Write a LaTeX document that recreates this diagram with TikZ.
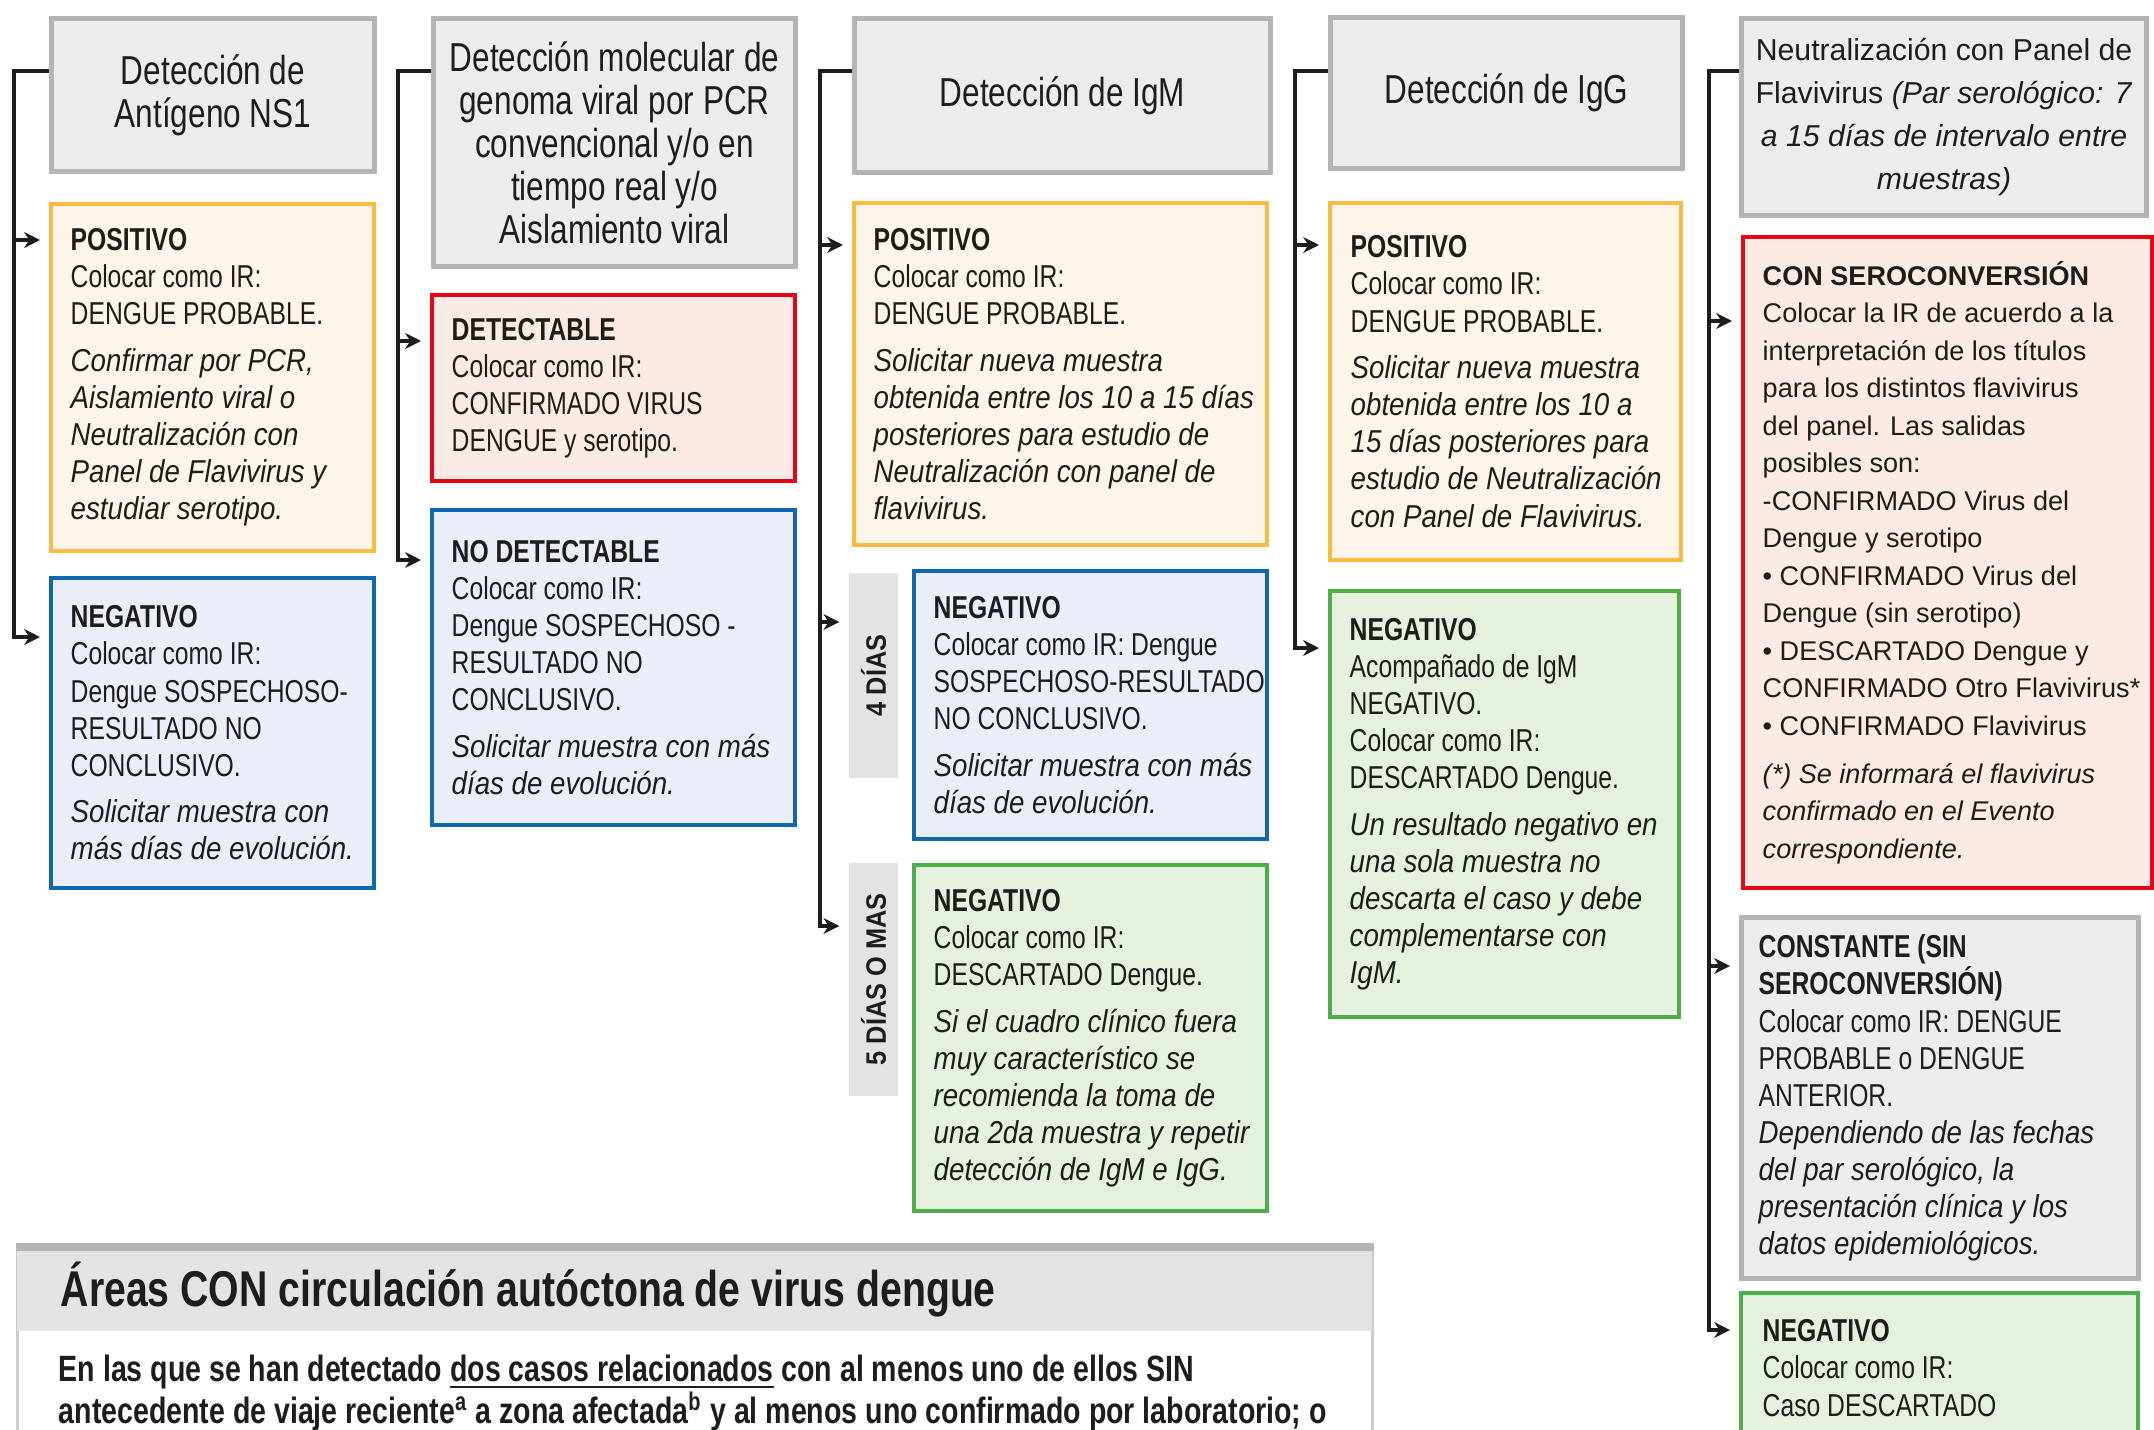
\documentclass[tikz,border=0pt]{standalone}
\usepackage{fontspec}
\setmainfont{Liberation Sans}[
  UprightFeatures={FakeStretch=0.78}, BoldFeatures={FakeStretch=0.78},
  ItalicFeatures={FakeStretch=0.875}, BoldItalicFeatures={FakeStretch=0.875}]
\newfontfamily\widefont{Liberation Sans}
\newfontfamily\tabfont{Liberation Sans}[FakeStretch=0.9]
\usetikzlibrary{arrows.meta,positioning}

\definecolor{ink}{HTML}{1D1D1B}
\definecolor{hdrfill}{HTML}{ECECEC}
\definecolor{hdrline}{HTML}{B4B4B4}
\definecolor{posline}{HTML}{FBBA40}
\definecolor{posfill}{HTML}{FEF5EA}
\definecolor{redline}{HTML}{E30613}
\definecolor{redfill}{HTML}{FCEAE4}
\definecolor{blueline}{HTML}{0F67B1}
\definecolor{bluefill}{HTML}{EAEEF8}
\definecolor{greenline}{HTML}{4DAF47}
\definecolor{greenfill}{HTML}{E5F0DF}
\definecolor{tabgray}{HTML}{E3E3E3}
\definecolor{arealine}{HTML}{CBCBCB}

\newcommand{\bodyfont}{\fontsize{9}{10.55}\selectfont}
\newcommand{\hdrfont}{\fontsize{11.5}{12.2}\selectfont}

\tikzset{
  hdr/.style={draw=hdrline, fill=hdrfill, line width=1.4pt, anchor=north west,
    align=center, inner sep=0pt, font=\hdrfont, text=ink},
  resbox/.style={line width=1.1pt, anchor=north west, inner sep=0pt},
  posbox/.style={resbox, draw=posline, fill=posfill},
  redbox/.style={resbox, draw=redline, fill=redfill},
  bluebox/.style={resbox, draw=blueline, fill=bluefill},
  greenbox/.style={resbox, draw=greenline, fill=greenfill},
  graybox/.style={resbox, draw=hdrline, fill=hdrfill, line width=1.4pt},
  tab/.style={fill=tabgray, inner sep=0pt, text=ink, font=\tabfont\fontsize{8}{9}\selectfont\bfseries},
  txt/.style={align=left, inner sep=0pt, font=\bodyfont, text=ink},
  widetxt/.style={txt, font=\widefont\fontsize{7.7}{10.66}\selectfont},
  bus/.style={draw=ink, line width=1.1pt},
  arr/.style={bus, -{Stealth[length=4.5pt,width=4.5pt]}, shorten >=0.9mm},
}

\begin{document}
\begin{tikzpicture}[x=0.01cm, y=0.01cm]
  \useasboundingbox (0,0) rectangle (2154,-1430);
  \clip (0,0) rectangle (2154,-1430);
  \fill[white] (0,0) rectangle (2154,-1430);

  % --- Antigeno NS1 ---
  \node[hdr, minimum width=3.23cm, minimum height=1.53cm] (hdr1) at (49,-16)
    {Detección de\\Antígeno NS1};
  \node[posbox, minimum width=3.23cm, minimum height=3.47cm] (pos1) at (49,-202) {};
  \node[txt, right=0.21cm of pos1.west] (pos1t)
    {\textbf{POSITIVO}\\Colocar como IR:\\DENGUE PROBABLE.\\[2.7pt]
     \textit{Confirmar por PCR,}\\\textit{Aislamiento viral o}\\
     \textit{Neutralización con}\\\textit{Panel de Flavivirus y}\\
     \textit{estudiar serotipo.}};
  \node[bluebox, minimum width=3.23cm, minimum height=3.10cm] (neg1) at (49,-576) {};
  \node[txt, right=0.21cm of neg1.west] (neg1t)
    {\textbf{NEGATIVO}\\Colocar como IR:\\Dengue SOSPECHOSO-\\RESULTADO NO\\
     CONCLUSIVO.\\[2.7pt]\textit{Solicitar muestra con}\\\textit{más días de evolución.}};

  % --- PCR / aislamiento ---
  \node[hdr, minimum width=3.62cm, minimum height=2.48cm] (hdr2) at (431,-16)
    {Detección molecular de\\genoma viral por PCR\\convencional y/o en\\
     tiempo real y/o\\Aislamiento viral};
  \node[redbox, minimum width=3.63cm, minimum height=1.86cm] (det2) at (430,-293) {};
  \node[txt, right=0.21cm of det2.west] (det2t)
    {\textbf{DETECTABLE}\\Colocar como IR:\\CONFIRMADO VIRUS\\DENGUE y serotipo.};
  \node[bluebox, minimum width=3.63cm, minimum height=3.15cm] (nodet2) at (430,-508) {};
  \node[txt, right=0.21cm of nodet2.west] (nodet2t)
    {\textbf{NO DETECTABLE}\\Colocar como IR:\\Dengue SOSPECHOSO -\\RESULTADO NO\\
     CONCLUSIVO.\\[2.7pt]\textit{Solicitar muestra con más}\\\textit{días de evolución.}};

  % --- IgM ---
  \node[hdr, minimum width=4.16cm, minimum height=1.54cm] (hdr3) at (852,-16)
    {Detección de IgM};
  \node[posbox, minimum width=4.13cm, minimum height=3.42cm] (pos3) at (852,-201) {};
  \node[txt, right=0.21cm of pos3.west] (pos3t)
    {\textbf{POSITIVO}\\Colocar como IR:\\DENGUE PROBABLE.\\[2.7pt]
     \textit{Solicitar nueva muestra}\\\textit{obtenida entre los 10 a 15 días}\\
     \textit{posteriores para estudio de}\\\textit{Neutralización con panel de}\\
     \textit{flavivirus.}};
  \node[tab, minimum width=0.49cm, minimum height=2.05cm] (tab4) at (873.5,-675.5)
    {\rotatebox{90}{4 DÍAS}};
  \node[bluebox, minimum width=3.53cm, minimum height=2.68cm] (neg3a) at (912,-569) {};
  \node[txt, right=0.21cm of neg3a.west] (neg3at)
    {\textbf{NEGATIVO}\\Colocar como IR: Dengue\\SOSPECHOSO-RESULTADO\\
     NO CONCLUSIVO.\\[2.7pt]\textit{Solicitar muestra con más}\\\textit{días de evolución.}};
  \node[tab, minimum width=0.49cm, minimum height=2.33cm] (tab5) at (873.5,-979.5)
    {\rotatebox{90}{5 DÍAS O MAS}};
  \node[greenbox, minimum width=3.53cm, minimum height=3.46cm] (neg3b) at (912,-863) {};
  \node[txt, right=0.21cm of neg3b.west] (neg3bt)
    {\textbf{NEGATIVO}\\Colocar como IR:\\DESCARTADO Dengue.\\[2.7pt]
     \textit{Si el cuadro clínico fuera}\\\textit{muy característico se}\\
     \textit{recomienda la toma de}\\\textit{una 2da muestra y repetir}\\
     \textit{detección de IgM e IgG.}};

  % --- IgG ---
  \node[hdr, minimum width=3.52cm, minimum height=1.51cm] (hdr4) at (1328,-15)
    {Detección de IgG};
  \node[posbox, minimum width=3.51cm, minimum height=3.57cm] (pos4) at (1328,-201) {};
  \node[txt, right=0.22cm of pos4.west] (pos4t)
    {\textbf{POSITIVO}\\Colocar como IR:\\DENGUE PROBABLE.\\[2.7pt]
     \textit{Solicitar nueva muestra}\\\textit{obtenida entre los 10 a}\\
     \textit{15 días posteriores para}\\\textit{estudio de Neutralización}\\
     \textit{con Panel de Flavivirus.}};
  \node[greenbox, minimum width=3.49cm, minimum height=4.26cm] (neg4) at (1328,-589) {};
  \node[txt, right=0.21cm of neg4.west] (neg4t)
    {\textbf{NEGATIVO}\\Acompañado de IgM\\NEGATIVO.\\Colocar como IR:\\
     DESCARTADO Dengue.\\[2.7pt]\textit{Un resultado negativo en}\\
     \textit{una sola muestra no}\\\textit{descarta el caso y debe}\\
     \textit{complementarse con}\\\textit{IgM.}};

  % --- Neutralizacion ---
  \node[hdr, minimum width=4.05cm, minimum height=1.97cm,
        font=\widefont\fontsize{8.6}{12.2}\selectfont] (hdr5) at (1739,-16)
    {Neutralización con Panel de\\Flavivirus \textit{(Par serológico: 7}\\
     \textit{a 15 días de intervalo entre}\\\textit{muestras)}};
  \node[redbox, minimum width=4.09cm, minimum height=6.51cm] (conser) at (1741,-235) {};
  \node[widetxt, right=0.21cm of conser.west] (consert)
    {\textbf{CON SEROCONVERSIÓN}\\Colocar la IR de acuerdo a la\\
     interpretación de los títulos\\para los distintos flavivirus\\
     del panel. Las salidas\\posibles son:\\-CONFIRMADO Virus del\\
     Dengue y serotipo\\• CONFIRMADO Virus del\\Dengue (sin serotipo)\\
     • DESCARTADO Dengue y\\CONFIRMADO Otro Flavivirus*\\
     • CONFIRMADO Flavivirus\\[3pt]\textit{(*) Se informará el flavivirus}\\
     \textit{confirmado en el Evento}\\\textit{correspondiente.}};
  \node[graybox, minimum width=3.97cm, minimum height=3.61cm] (const) at (1739,-915) {};
  \node[txt, right=0.19cm of const.west] (constt)
    {\textbf{CONSTANTE (SIN}\\\textbf{SEROCONVERSIÓN)}\\Colocar como IR: DENGUE\\
     PROBABLE o DENGUE\\ANTERIOR.\\\textit{Dependiendo de las fechas}\\
     \textit{del par serológico, la}\\\textit{presentación clínica y los}\\
     \textit{datos epidemiológicos.}};
  \node[greenbox, minimum width=3.97cm, minimum height=1.80cm] (neg5) at (1739,-1291) {};
  \node[txt, anchor=north west, below right=0.28cm and 0.23cm of neg5.north west] (neg5t)
    {\textbf{NEGATIVO}\\Colocar como IR:\\Caso DESCARTADO};

  % --- Areas CON circulacion ---
  \node[draw=arealine, line width=0.8pt, fill=white, anchor=north west,
        minimum width=13.54cm, minimum height=2.3cm, inner sep=0pt] (areas) at (16,-1247) {};
  \node[fill=tabgray, anchor=north west, minimum width=13.54cm, minimum height=0.83cm,
        inner sep=0pt] (band) at (areas.north west) {};
  \draw[hdrline, line width=2pt] (areas.north west) -- (areas.north east);
  \node[txt, right=0.44cm of band.west, font=\fontsize{14.3}{16}\selectfont\bfseries] (areast)
    {Áreas CON circulación autóctona de virus dengue};
  \node[txt, below right=0.23cm and 0.42cm of band.south west,
        font=\fontsize{10.4}{11.9}\selectfont\bfseries] (areasb)
    {En las que se han detectado \underline{dos casos relacionados} con al menos uno de ellos SIN\\
     antecedente de viaje reciente\textsuperscript{a} a zona afectada\textsuperscript{b} y al menos uno confirmado por laboratorio; o};

  % --- conectores ---
  \coordinate (b1) at (14,-71);
  \coordinate (b1p) at (14,-240);
  \coordinate (b1n) at (14,-637);
  \draw[arr] (b1 -| hdr1.west) -- (b1) -- (b1n) -- (b1n -| neg1.west);
  \draw[arr] (b1p) -- (b1p -| pos1.west);

  \coordinate (b2) at (398,-71);
  \coordinate (b2d) at (398,-341);
  \coordinate (b2n) at (398,-560);
  \draw[arr] (b2 -| hdr2.west) -- (b2) -- (b2n) -- (b2n -| nodet2.west);
  \draw[arr] (b2d) -- (b2d -| det2.west);

  \coordinate (b3) at (820,-71);
  \coordinate (b3p) at (820,-245);
  \coordinate (b3a) at (820,-622);
  \coordinate (b3b) at (820,-926);
  \draw[arr] (b3 -| hdr3.west) -- (b3) -- (b3b) -- (b3b -| tab5.west);
  \draw[arr] (b3p) -- (b3p -| pos3.west);
  \draw[arr] (b3a) -- (b3a -| tab4.west);

  \coordinate (b4) at (1295,-71);
  \coordinate (b4p) at (1295,-245);
  \coordinate (b4n) at (1295,-648);
  \draw[arr] (b4 -| hdr4.west) -- (b4) -- (b4n) -- (b4n -| neg4.west);
  \draw[arr] (b4p) -- (b4p -| pos4.west);

  \coordinate (b5) at (1709,-71);
  \coordinate (b5s) at (1709,-321);
  \coordinate (b5c) at (1709,-966);
  \coordinate (b5n) at (1709,-1330);
  \draw[arr] (b5 -| hdr5.west) -- (b5) -- (b5n) -- (b5n -| neg5.west);
  \draw[arr] (b5s) -- (b5s -| conser.west);
  \draw[arr] (b5c) -- (b5c -| const.west);
\end{tikzpicture}
\end{document}
